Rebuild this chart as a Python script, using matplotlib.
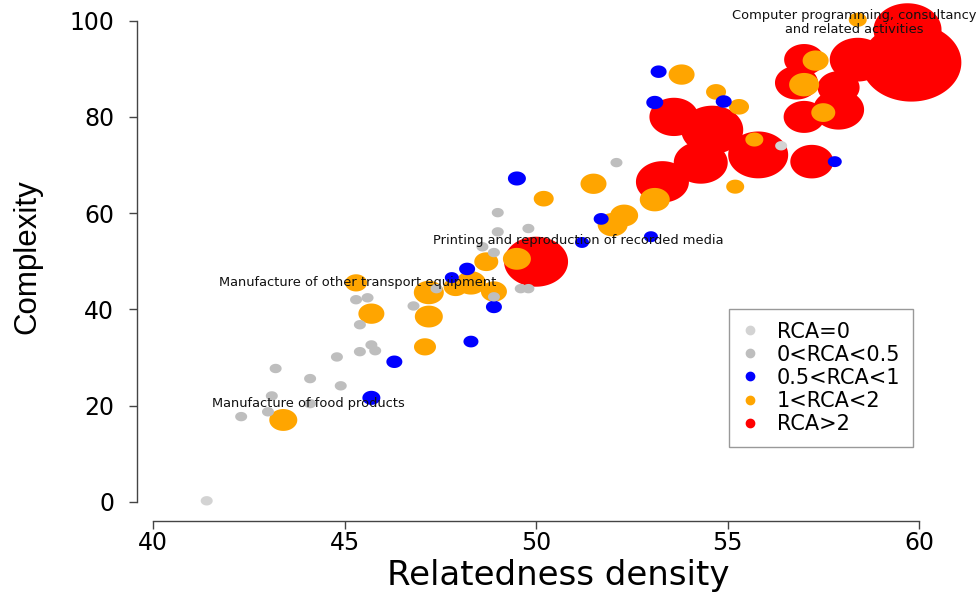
import numpy as np
import matplotlib
matplotlib.use("Agg")
import matplotlib.pyplot as plt
from matplotlib.path import Path
from matplotlib.lines import Line2D

plt.rcParams['font.family'] = ['DejaVu Sans']

# --- data: relatedness density, complexity, bubble size, RCA class ---
gray_x = [41.4, 42.3, 43.0, 43.1, 43.2, 44.1, 44.9, 44.8, 45.4, 45.7, 45.8, 45.4, 45.3, 45.6,
          46.8, 47.4, 48.9, 49.6, 49.8, 44.1, 49.0, 49.0, 49.8, 48.6, 48.9, 52.1, 56.4]
gray_y = [0.2, 17.7, 18.7, 22.0, 27.7, 25.6, 24.1, 30.1, 31.2, 32.6, 31.4, 36.8, 42.0, 42.4,
          40.7, 44.3, 42.6, 44.3, 44.3, 20.4, 60.1, 56.1, 56.8, 53.0, 51.8, 70.5, 74.0]
gray_zero = [1, 0, 0, 0, 0, 0, 0, 0, 0, 0, 0, 0, 0, 0,
             0, 0, 0, 0, 0, 0, 0, 0, 0, 0, 0, 0, 1]

blue_x = [45.7, 46.3, 48.3, 48.9, 47.8, 48.2, 49.5, 51.7, 51.2, 53.0, 53.2, 53.1, 54.9, 57.8]
blue_y = [21.6, 29.1, 33.3, 40.5, 46.6, 48.4, 67.2, 58.8, 53.9, 55.1, 89.4, 83.0, 83.2, 70.7]
blue_s = [18, 16, 15, 16, 14, 16, 18, 15, 14, 14, 16, 17, 16, 14]

orange_x = [43.4, 45.7, 47.2, 47.1, 47.2, 45.3, 47.9, 48.3, 48.9, 48.7, 49.5, 50.2, 51.5,
            53.8, 54.7, 55.3, 55.2, 53.1, 52.3, 52.0, 55.7, 58.4, 57.3, 57.0, 57.5]
orange_y = [17.0, 39.1, 38.5, 32.2, 43.5, 45.5, 44.7, 45.5, 43.7, 49.9, 50.5, 63.0, 66.1,
            88.8, 85.2, 82.1, 65.5, 62.8, 59.5, 57.6, 75.3, 100.2, 91.7, 86.7, 80.9]
orange_s = [28, 26, 28, 22, 30, 22, 24, 30, 26, 24, 28, 20, 26,
            26, 20, 20, 18, 30, 28, 30, 18, 18, 26, 30, 24]

red_x = [50.0, 53.3, 53.6, 54.6, 54.3, 55.8, 57.2, 57.0, 56.8, 57.0, 57.9, 57.9, 58.4, 59.7, 59.8]
red_y = [49.9, 66.5, 80.0, 77.3, 70.5, 72.1, 70.7, 91.9, 87.1, 80.0, 86.1, 81.5, 91.9, 98.1, 91.3]
red_s = [64, 53, 49, 62, 54, 60, 43, 40, 43, 41, 42, 51, 56, 68, 100]

legend_labels = ["RCA=0", "0<RCA<0.5", "0.5<RCA<1", "1<RCA<2", "RCA>2"]
legend_colors = ["#D3D3D3", "#BEBEBE", "#0000FF", "#FFA500", "#FF0000"]

labels = [
    ("Computer programming, consultancy\nand related activities", 58.3, 99.6),
    ("Printing and reproduction of recorded media", 51.1, 54.3),
    ("Manufacture of other transport equipment", 45.35, 45.5),
    ("Manufacture of food products", 44.05, 20.4),
]

# --- gather points, draw big bubbles first ---
xs = gray_x + blue_x + orange_x + red_x
ys = gray_y + blue_y + orange_y + red_y
ws = [12] * len(gray_x) + blue_s + orange_s + red_s
cs = ([legend_colors[0] if z else legend_colors[1] for z in gray_zero]
      + [legend_colors[2]] * len(blue_x) + [legend_colors[3]] * len(orange_x)
      + [legend_colors[4]] * len(red_x))
order = np.argsort(ws, kind="stable")[::-1]
xs = np.array(xs)[order]
ys = np.array(ys)[order]
ws = np.array(ws, dtype=float)[order]
cs = [cs[i] for i in order]

# slightly wide ellipse, like the stretched original
t = np.linspace(0, 2 * np.pi, 120)
ell = Path(np.column_stack([1.28 * np.cos(t), np.sin(t)]), closed=True)

fig = plt.figure(figsize=(9.78, 5.92), dpi=100)
ax = fig.add_axes([137 / 978, 1 - 521 / 592, 805 / 978, 521 / 592])
ax.scatter(xs, ys, s=(ws * 0.72) ** 2, c=cs, marker=ell, linewidths=0, clip_on=False, zorder=2)

for txt, lx, ly in labels:
    ax.text(lx, ly, txt, ha="center", va="center", fontsize=9.4, color="#111111",
            linespacing=1.05, zorder=3)

ax.set_xlim(39.58, 60.6)
ax.set_ylim(-4, 104.3)
for sp in ("top", "right"):
    ax.spines[sp].set_visible(False)
ax.spines["left"].set_bounds(0, 100)
ax.spines["bottom"].set_bounds(40, 60)
for sp in ("left", "bottom"):
    ax.spines[sp].set_color("#444444")
    ax.spines[sp].set_linewidth(1)
ax.set_xticks([40, 45, 50, 55, 60])
ax.set_yticks([0, 20, 40, 60, 80, 100])
ax.tick_params(direction="out", length=5.5, width=1, color="#444444", labelsize=17)
ax.tick_params(axis="x", pad=2)
ax.tick_params(axis="y", pad=11)

fig.text(558 / 978, 1 - 585 / 592, "Relatedness density", fontsize=24.5,
         ha="center", va="baseline")
fig.text(27 / 978, 1 - 257 / 592, "Complexity", fontsize=22.5, rotation=90,
         ha="center", va="center", family="Liberation Sans")

handles = [Line2D([], [], marker="o", ls="", color=c, markersize=6) for c in legend_colors]
leg = fig.legend(handles, legend_labels, loc="upper left",
                 bbox_to_anchor=(729 / 978, 1 - 309 / 592), fontsize=15,
                 frameon=True, fancybox=False, edgecolor="#808080", borderpad=0.6,
                 labelspacing=0.15, handletextpad=0.9, handlelength=0.8, borderaxespad=0)
leg.get_frame().set_linewidth(1)

fig.savefig("out.png", dpi=100)
